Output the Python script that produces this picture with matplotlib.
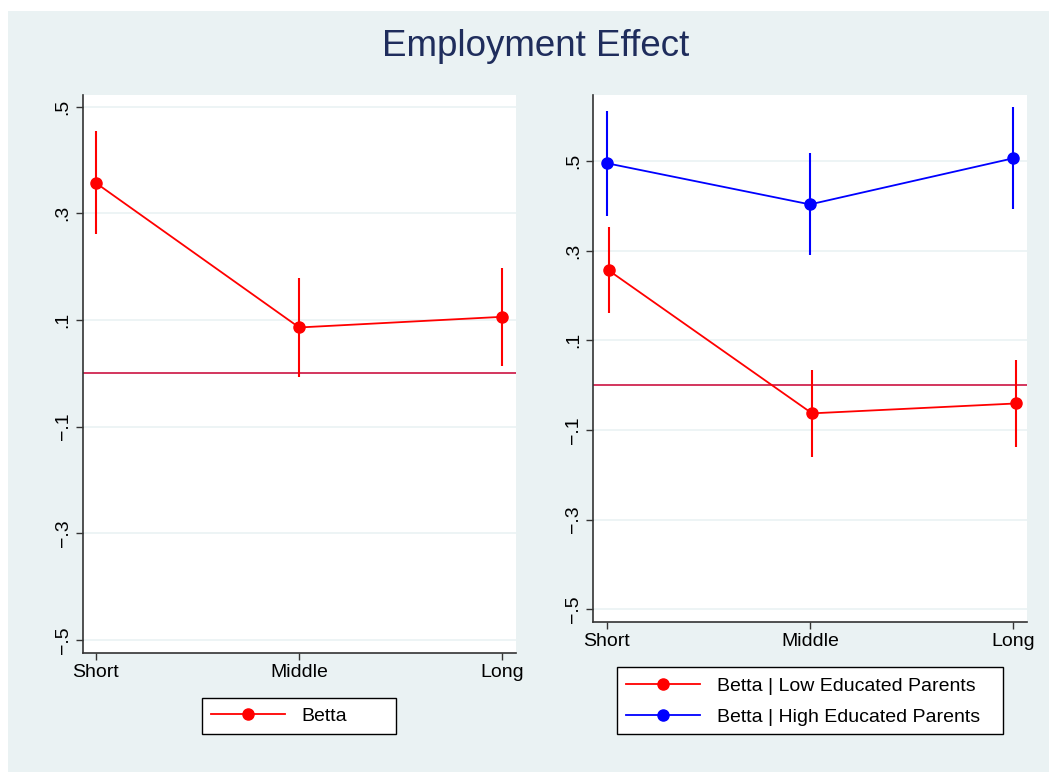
import matplotlib.pyplot as plt
from matplotlib.patches import Rectangle
from matplotlib.lines import Line2D

# Dati
categories = ['Short', 'Middle', 'Long']

# Pannello sinistro: Betta
betta = [0.357, 0.086, 0.106]
betta_lo = [0.261, -0.006, 0.014]
betta_hi = [0.455, 0.178, 0.198]

# Pannello destro: genitori con bassa istruzione
low = [0.256, -0.063, -0.041]
low_lo = [0.160, -0.160, -0.139]
low_hi = [0.353, 0.034, 0.056]

# Pannello destro: genitori con alta istruzione
high = [0.495, 0.403, 0.506]
high_lo = [0.377, 0.291, 0.393]
high_hi = [0.612, 0.517, 0.620]

yticks = [-0.5, -0.3, -0.1, 0.1, 0.3, 0.5]
yticklabels = ['\u2212.5', '\u2212.3', '\u2212.1', '.1', '.3', '.5']

bg = '#EAF2F3'
red = '#FF0000'
blue = '#0000FF'
zero_col = '#D02550'
title_col = '#1F2D5C'

W, H = 1049, 772

plt.rcParams.update({
    'font.family': ['Liberation Sans', 'DejaVu Sans'],
    'font.size': 14,
})

fig = plt.figure(figsize=(W / 100, H / 100), dpi=100)
fig.patch.set_facecolor('white')
fig.patches.append(Rectangle((8 / W, 0), 1 - 8 / W, 1 - 11 / H,
                             transform=fig.transFigure, facecolor=bg,
                             edgecolor='none', zorder=-10))

fig.text(536 / W, 1 - 46 / H, 'Employment Effect', ha='center', va='center',
         fontsize=26.5, color=title_col)


def style_axes(ax, ylim):
    ax.set_facecolor('white')
    ax.set_xlim(0.935, 3.065)
    ax.set_ylim(*ylim)
    ax.set_xticks([1, 2, 3])
    ax.set_xticklabels(categories)
    ax.set_yticks(yticks)
    ax.set_yticklabels(yticklabels, rotation=90, va='center')
    for s in ['top', 'right']:
        ax.spines[s].set_visible(False)
    for s in ['left', 'bottom']:
        ax.spines[s].set_color('#333333')
        ax.spines[s].set_linewidth(1.2)
    ax.tick_params(direction='out', length=5, width=1, color='#333333',
                   labelsize=14, pad=3)
    ax.grid(True, axis='y', color=bg, linewidth=1.2)
    ax.set_axisbelow(True)
    ax.axhline(0, color=zero_col, linewidth=1.3, zorder=2)


def series(ax, x, y, lo, hi, color):
    ax.vlines(x, lo, hi, color=color, linewidth=1.5, zorder=3)
    ax.plot(x, y, color=color, linewidth=1.3, marker='o', markersize=8, zorder=4)


def boxed_legend(handles, labels, box, left_px, yc_px):
    # cornice disegnata a mano per avere le stesse proporzioni di Stata
    x0, y0, x1, y1 = box
    fig.patches.append(Rectangle((x0 / W, 1 - y1 / H), (x1 - x0) / W, (y1 - y0) / H,
                                 transform=fig.transFigure, facecolor='white',
                                 edgecolor='black', linewidth=1.0, zorder=4))
    leg = fig.legend(handles, labels, loc='center left',
                     bbox_to_anchor=(left_px / W, 1 - yc_px / H),
                     bbox_transform=fig.transFigure, frameon=False,
                     handlelength=3.8, handletextpad=0.87, borderpad=0,
                     labelspacing=0.66, borderaxespad=0, fontsize=14)
    leg.set_zorder(6)
    return leg


xpos = [1, 2, 3]

# Pannello sinistro
ax1 = fig.add_axes([82.7 / W, 1 - 652.7 / H, 433 / W, 557.7 / H])
style_axes(ax1, (-0.524, 0.522))
series(ax1, xpos, betta, betta_lo, betta_hi, red)
h1 = Line2D([], [], color=red, linewidth=1.3, marker='o', markersize=8)
boxed_legend([h1], ['Betta'], (202, 698, 396, 734), 211, 716)

# Pannello destro
ax2 = fig.add_axes([593.3 / W, 1 - 622.3 / H, 433.4 / W, 527.3 / H])
style_axes(ax2, (-0.529, 0.647))
xr = [p + 0.01 for p in xpos]
series(ax2, xr, low, low_lo, low_hi, red)
series(ax2, xpos, high, high_lo, high_hi, blue)
h_low = Line2D([], [], color=red, linewidth=1.3, marker='o', markersize=8)
h_high = Line2D([], [], color=blue, linewidth=1.3, marker='o', markersize=8)
boxed_legend([h_low, h_high],
             ['Betta | Low Educated Parents', 'Betta | High Educated Parents'],
             (617, 667, 1003, 734), 626, 701.5)

fig.savefig('out.png', dpi=100, facecolor=fig.get_facecolor())
